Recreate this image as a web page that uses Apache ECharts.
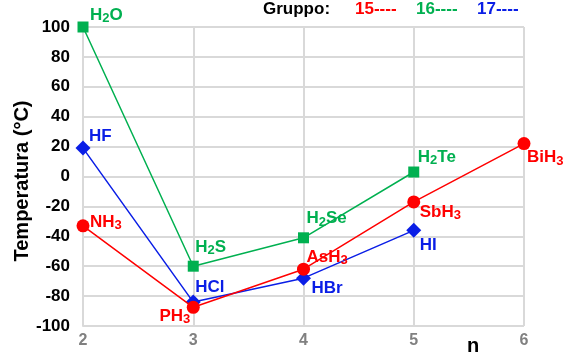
<!DOCTYPE html>
<html><head><meta charset="utf-8">
<script src="https://cdn.jsdelivr.net/npm/echarts@6/dist/echarts.min.js"></script>
<style>html,body{margin:0;padding:0;background:#fff}#c{width:567px;height:358px}</style>
</head><body><div id="c"></div>
<script>
var nValues = [2, 3, 4, 5, 6];
var group15Names = ['NH{s|3}', 'PH{s|3}', 'AsH{s|3}', 'SbH{s|3}', 'BiH{s|3}'];
var group15Values = [-33, -87.5, -62, -17, 22];
var group16Names = ['H{s|2}O', 'H{s|2}S', 'H{s|2}Se', 'H{s|2}Te'];
var group16Values = [100, -60, -41, 3];
var group17Names = ['HF', 'HCl', 'HBr', 'HI'];
var group17Values = [19, -84, -68, -36];
var yTicks = [-100, -80, -60, -40, -20, 0, 20, 40, 60, 80, 100];

var RED = '#ff0000', GREEN = '#00b050', BLUE = '#0a1ee6';
var FONT = 'Liberation Sans, Arial, sans-serif';

// label placement (style only): [align, dx, dy]
var pos15 = [['left', 7, -4], ['right', -3, 9], ['left', 3, -12], ['left', 6, 10], ['left', 3, 14]];
var pos16 = [['left', 7, -12], ['left', 2, -19], ['left', 3, -19], ['left', 4, -15]];
var pos17 = [['left', 6, -12], ['left', 2, -15], ['left', 8, 10], ['left', 6, 15]];

function buildData(values, names, pos, color) {
  return values.map(function (v, i) {
    return {
      value: [nValues[i], v],
      label: {
        show: true,
        position: 'inside',
        align: pos[i][0],
        verticalAlign: 'middle',
        offset: [pos[i][1], pos[i][2]],
        formatter: names[i],
        color: color,
        fontFamily: FONT,
        fontWeight: 'bold',
        fontSize: 17,
        lineHeight: 20,
        rich: {
          s: { fontSize: 13, fontWeight: 'bold', fontFamily: FONT, color: color, lineHeight: 20, verticalAlign: 'bottom', padding: [8, 0, 0, 0] }
        }
      }
    };
  });
}

var chart = echarts.init(document.getElementById('c'));
chart.setOption({
  animation: false,
  grid: { left: 83, right: 43, top: 27, bottom: 32, containLabel: false, outerBoundsMode: 'none' },
  xAxis: {
    type: 'value', min: 2, max: 6, interval: 1,
    axisLine: { show: true, lineStyle: { color: '#d9d9d9', width: 2 } },
    axisTick: { show: false },
    splitLine: { show: true, lineStyle: { color: '#d9d9d9', width: 2 } },
    axisLabel: { color: '#808080', fontFamily: FONT, fontWeight: 'bold', fontSize: 16, margin: 7 }
  },
  yAxis: {
    type: 'value', min: -100, max: 100, interval: 20,
    axisLine: { show: true, lineStyle: { color: '#d9d9d9', width: 2 } },
    axisTick: { show: false },
    splitLine: { show: true, lineStyle: { color: '#d9d9d9', width: 2 } },
    axisLabel: { color: '#000', fontFamily: FONT, fontWeight: 'bold', fontSize: 17, margin: 13,
      formatter: function (v) { return yTicks.indexOf(v) >= 0 ? String(v) : ''; } }
  },
  graphic: [
    { type: 'text', x: 22, y: 181, rotation: Math.PI / 2,
      style: { text: 'Temperatura (°C)', fill: '#000', font: 'bold 20px ' + FONT, align: 'center', verticalAlign: 'middle' } },
    { type: 'text', left: 467, top: 336, style: { text: 'n', fill: '#000', font: 'bold 20px ' + FONT } },
    { type: 'text', left: 263, top: 1, style: { text: 'Gruppo:', fill: '#000', font: 'bold 17px ' + FONT } },
    { type: 'text', left: 355, top: 1, style: { text: '15----', fill: RED, font: 'bold 17px ' + FONT } },
    { type: 'text', left: 416, top: 1, style: { text: '16----', fill: GREEN, font: 'bold 17px ' + FONT } },
    { type: 'text', left: 477, top: 1, style: { text: '17----', fill: BLUE, font: 'bold 17px ' + FONT } }
  ],
  series: [
    { type: 'line', name: '15', data: buildData(group15Values, group15Names, pos15, RED),
      symbol: 'circle', symbolSize: 13, itemStyle: { color: RED }, lineStyle: { color: RED, width: 1.5 }, z: 3 },
    { type: 'line', name: '16', data: buildData(group16Values, group16Names, pos16, GREEN),
      symbol: 'rect', symbolSize: 11, itemStyle: { color: GREEN }, lineStyle: { color: GREEN, width: 1.5 }, z: 2 },
    { type: 'line', name: '17', data: buildData(group17Values, group17Names, pos17, BLUE),
      symbol: 'diamond', symbolSize: 15, itemStyle: { color: BLUE }, lineStyle: { color: BLUE, width: 1.5 }, z: 2 }
  ]
});
</script></body></html>
